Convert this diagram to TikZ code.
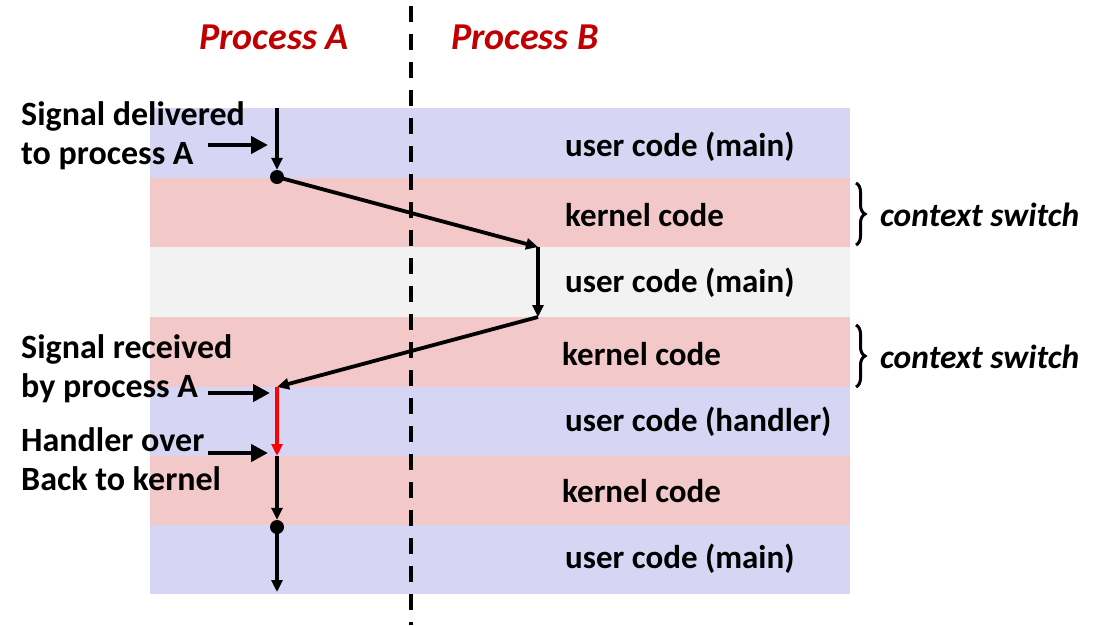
\documentclass[tikz,border=0pt]{standalone}
\usepackage{fontspec}
\setmainfont{Carlito}
\usetikzlibrary{arrows.meta,decorations.pathreplacing}
\definecolor{bandblue}{RGB}{214,214,244}
\definecolor{bandpink}{RGB}{242,200,200}
\definecolor{bandgray}{RGB}{242,242,242}
\definecolor{procred}{RGB}{192,0,0}
\begin{document}
\begin{tikzpicture}[x=1pt,y=-1pt,
  bandtext/.style={anchor=west,font=\fontsize{33}{38}\selectfont\bfseries,inner sep=0pt},
  proclabel/.style={anchor=center,font=\fontsize{38}{44}\selectfont\bfseries\itshape,text=procred,inner sep=0pt},
  sidelabel/.style={anchor=west,align=left,font=\fontsize{34}{39}\selectfont\bfseries,inner sep=0pt},
  ctxlabel/.style={anchor=west,font=\fontsize{33.5}{38}\selectfont\bfseries\itshape,inner sep=0pt},
  flow/.style={line width=3.8pt,-{Triangle[length=12pt,width=11pt]}},
  pointer/.style={line width=4.5pt,-{Triangle[length=17pt,width=17pt]}},
  dotmark/.style={circle,fill=black,inner sep=0pt,minimum size=14pt},
  bracemark/.style={line width=3pt,decorate,decoration={brace,amplitude=9pt}}]
\useasboundingbox (0,0) rectangle (1100,625);
% bands
\fill[bandblue] (150,108) rectangle (850,178);
\fill[bandpink] (150,178) rectangle (850,247);
\fill[bandgray] (150,247) rectangle (850,317);
\fill[bandpink] (150,317) rectangle (850,387);
\fill[bandblue] (150,387) rectangle (850,456);
\fill[bandpink] (150,456) rectangle (850,525);
\fill[bandblue] (150,525) rectangle (850,594);
% dashed divider
\coordinate (dtop) at (411,6);
\coordinate (dbot) at (411,625);
\draw[line width=3.5pt,dash pattern=on 16pt off 12pt] (dtop) -- (dbot);
% process labels
\node[proclabel] (pa) at (274,37) {Process A};
\node[proclabel] (pb) at (525,37) {Process B};
% band texts
\node[bandtext] (b1) at (565,147) {user code (main)};
\node[bandtext] (b2) at (565,215) {kernel code};
\node[bandtext] (b3) at (565,283) {user code (main)};
\node[bandtext] (b4) at (562,354) {kernel code};
\node[bandtext] (b5) at (565,422) {user code (handler)};
\node[bandtext] (b6) at (562,491) {kernel code};
\node[bandtext] (b7) at (565,559) {user code (main)};
% flow points
\coordinate (p0) at (277,108);
\node[dotmark] (d1) at (277,177) {};
\coordinate (p2) at (538,247);
\coordinate (p3) at (538,317);
\coordinate (p4) at (277,387);
\coordinate (p5) at (277,456);
\node[dotmark] (d2) at (277,527) {};
\coordinate (p7) at (277,592);
\draw[flow] (p0) -- (d1.north);
\draw[flow] (d1.center) -- (p2);
\draw[flow] (p2) -- (p3);
\draw[flow] (p3) -- (p4);
\draw[flow,red] (p4) -- (p5);
\draw[flow] (p5) -- (d2.north);
\draw[flow] (d2.center) -- (p7);
% side labels
\node[sidelabel] (s1) at (21,136) {Signal delivered\\to process A};
\node[sidelabel] (s2) at (21,369) {Signal received\\by process A};
\node[sidelabel] (s3) at (21,459) {Handler over\\Back to kernel};
\coordinate (a1s) at (208,145);
\coordinate (a1e) at (268,145);
\coordinate (a2s) at (208,393);
\coordinate (a2e) at (270,393);
\coordinate (a3s) at (208,453);
\coordinate (a3e) at (268,453);
\draw[pointer] (a1s) -- (a1e);
\draw[pointer] (a2s) -- (a2e);
\draw[pointer] (a3s) -- (a3e);
% braces
\coordinate (br1t) at (856,183);
\coordinate (br1b) at (856,245);
\coordinate (br2t) at (856,325);
\coordinate (br2b) at (856,387);
\draw[bracemark] (br1t) -- (br1b);
\draw[bracemark] (br2t) -- (br2b);
\node[ctxlabel] (c1) at (880,215) {context switch};
\node[ctxlabel] (c2) at (880,357) {context switch};
\end{tikzpicture}
\end{document}
